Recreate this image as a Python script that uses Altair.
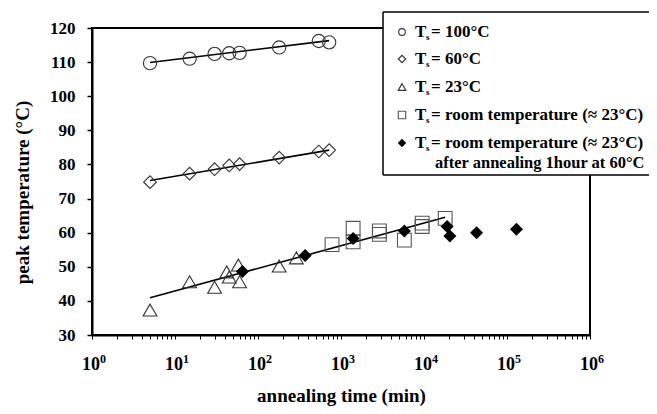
import altair as alt
import pandas as pd

# ---- data ----
t100_time = [5, 15, 30, 45, 60, 180, 540, 720]
t100_temp = [109.7, 111.0, 112.4, 112.6, 112.7, 114.3, 116.2, 115.8]

t60_time = [5, 15, 30, 45, 60, 180, 540, 720]
t60_temp = [74.8, 77.3, 78.6, 79.7, 80.1, 82.0, 83.8, 84.2]

t23_time = [5, 15, 30, 42, 45, 58, 60, 180, 290]
t23_temp = [37.3, 45.6, 44.0, 48.5, 47.0, 50.5, 45.6, 50.2, 52.6]

room_time = [780, 1400, 1400, 2900, 2900, 5800, 9500, 9500, 18000]
room_temp = [56.5, 61.3, 57.3, 60.5, 59.5, 57.8, 62.8, 61.8, 64.2]

ann_time = [65, 370, 1400, 5800, 19000, 20500, 43000, 130000]
ann_temp = [48.6, 53.3, 58.3, 60.5, 61.8, 59.0, 60.0, 61.0]

fit100_time = [5, 720]
fit100_temp = [109.9, 116.3]
fit60_time = [5, 720]
fit60_temp = [75.3, 84.2]
fit23_time = [5, 18000]
fit23_temp = [40.9, 64.5]

y_ticks = [30, 40, 50, 60, 70, 80, 90, 100, 110, 120]
x_ticks = [k * 10 ** e for e in range(0, 6) for k in range(1, 10)] + [10 ** 6]
decades = [1, 10, 100, 1000, 10000, 100000, 1000000]
exponents = ["0", "1", "2", "3", "4", "5", "6"]

legend_labels = [
    "= 100°C",
    "= 60°C",
    "= 23°C",
    "= room temperature (≈ 23°C)",
    "= room temperature (≈ 23°C)",
]
legend_extra = "after annealing 1hour at 60°C"

FONT = "Liberation Serif"
W, H = 498, 307
LFS = 17

xscale = alt.Scale(type="log", domain=[1, 1e6], nice=False)
yscale = alt.Scale(domain=[30, 120], nice=False, zero=False)

xaxis = alt.Axis(
    values=x_ticks, labels=False, grid=False, tickSize=4, tickColor="black",
    domainColor="black", domainWidth=2,
    title="annealing time (min)", titleFont=FONT, titleFontSize=19,
    titleFontWeight="bold", titleColor="black", titleBaseline="alphabetic",
    titleY=66,
)
yaxis = alt.Axis(
    values=y_ticks, grid=False, tickSize=5, tickColor="black", tickWidth=1.5,
    labelFont=FONT, labelFontSize=17, labelFontWeight="bold", labelColor="black",
    labelPadding=12, domainColor="black", domainWidth=2,
    title="peak temperature (°C)", titleFont=FONT, titleFontSize=19,
    titleFontWeight="bold", titleColor="black", titleBaseline="alphabetic",
    titleAngle=270, titleX=-64, titleY=164, titleAlign="center",
)


def df(t, v):
    return pd.DataFrame({"time": t, "temp": v})


def enc(chart):
    return chart.encode(
        x=alt.X("time:Q", scale=xscale, axis=xaxis),
        y=alt.Y("temp:Q", scale=yscale, axis=yaxis),
    )


layers = []
for t, v in [(fit100_time, fit100_temp), (fit60_time, fit60_temp), (fit23_time, fit23_temp)]:
    layers.append(enc(alt.Chart(df(t, v)).mark_line(color="black", strokeWidth=1.6)))

stroke = "#333333"
layers.append(enc(alt.Chart(df(t100_time, t100_temp)).mark_point(
    shape="circle", filled=False, size=175, color=stroke, strokeWidth=1.1, opacity=1)))
layers.append(enc(alt.Chart(df(t60_time, t60_temp)).mark_point(
    shape="diamond", filled=False, size=160, color=stroke, strokeWidth=1.1, opacity=1)))
layers.append(enc(alt.Chart(df(t23_time, t23_temp)).mark_point(
    shape="triangle-up", filled=False, size=190, color=stroke, strokeWidth=1.1, opacity=1)))
layers.append(enc(alt.Chart(df(room_time, room_temp)).mark_point(
    shape="square", filled=False, size=190, color="#555555", strokeWidth=1.1, opacity=1)))
layers.append(enc(alt.Chart(df(ann_time, ann_temp)).mark_point(
    shape="diamond", filled=True, size=170, color="black", opacity=1)))

# ---- x tick labels as 10 + superscript exponent, placed through the x scale ----
dec_df = pd.DataFrame({"time": decades, "exp": exponents})
layers.append(alt.Chart(dec_df).mark_text(
    align="right", baseline="alphabetic", font=FONT, fontSize=18, fontWeight="bold",
    color="black", dx=8).encode(
    x=alt.X("time:Q", scale=xscale, axis=xaxis), y=alt.value(H + 35), text=alt.value("10")))
layers.append(alt.Chart(dec_df).mark_text(
    align="left", baseline="alphabetic", font=FONT, fontSize=12, fontWeight="bold",
    color="black", dx=8).encode(
    x=alt.X("time:Q", scale=xscale, axis=xaxis), y=alt.value(H + 28), text="exp:N"))

# ---- legend box (manual, drawn over the frame corner; right side runs off the page) ----
one = alt.Data(values=[{}])
LX, LY0, LY1 = 291, -16, 147
layers.append(alt.Chart(one).mark_rect(fill="white", strokeWidth=0).encode(
    x=alt.value(LX), x2=alt.value(720), y=alt.value(LY0), y2=alt.value(LY1)))
for yy in (LY0, LY1):
    layers.append(alt.Chart(one).mark_rule(color="black", strokeWidth=1.5).encode(
        x=alt.value(LX), x2=alt.value(720), y=alt.value(yy)))
layers.append(alt.Chart(one).mark_rule(color="black", strokeWidth=1.5).encode(
    x=alt.value(LX), y=alt.value(LY0), y2=alt.value(LY1)))

sym_x = 310
row_y = [4, 31, 59, 87, 115]
sym_specs = [
    dict(shape="circle", filled=False, size=45, color=stroke),
    dict(shape="diamond", filled=False, size=55, color=stroke),
    dict(shape="triangle-up", filled=False, size=60, color=stroke),
    dict(shape="square", filled=False, size=55, color="#555555"),
    dict(shape="diamond", filled=True, size=70, color="black"),
]
for ry, spec, lab in zip(row_y, sym_specs, legend_labels):
    layers.append(alt.Chart(one).mark_point(opacity=1, strokeWidth=1.1, **spec).encode(
        x=alt.value(sym_x), y=alt.value(ry)))
    layers.append(alt.Chart(one).mark_text(
        align="left", baseline="middle", font=FONT, fontSize=LFS, fontWeight="bold",
        color="black").encode(x=alt.value(323), y=alt.value(ry), text=alt.value("T")))
    layers.append(alt.Chart(one).mark_text(
        align="left", baseline="middle", font=FONT, fontSize=9, fontWeight="bold",
        color="black").encode(x=alt.value(334), y=alt.value(ry + 5), text=alt.value("s")))
    layers.append(alt.Chart(one).mark_text(
        align="left", baseline="middle", font=FONT, fontSize=LFS, fontWeight="bold",
        color="black").encode(x=alt.value(339), y=alt.value(ry), text=alt.value(lab)))
layers.append(alt.Chart(one).mark_text(
    align="left", baseline="middle", font=FONT, fontSize=16.5, fontWeight="bold",
    color="black").encode(x=alt.value(343), y=alt.value(135), text=alt.value(legend_extra)))

chart = alt.layer(*layers).properties(
    width=W, height=H,
    autosize=alt.AutoSizeParams(type="none"),
    padding={"left": 84, "top": 20, "right": 59, "bottom": 71},
    background="white",
).configure_view(stroke="black", strokeWidth=2)

chart.save("out.html", embed_options={"renderer": "svg", "actions": False})
